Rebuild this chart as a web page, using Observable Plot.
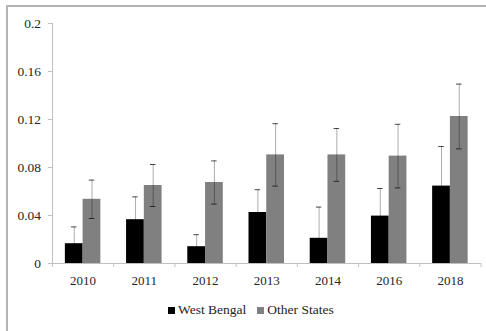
<!DOCTYPE html>
<html>
<head>
<meta charset="utf-8">
<script src="https://cdn.jsdelivr.net/npm/d3@7"></script>
<script src="https://cdn.jsdelivr.net/npm/@observablehq/plot@0.6"></script>
<style>
  body { margin: 0; background: #fff; }
  #frame {
    position: relative; width: 486px; height: 331px; overflow: hidden;
    font-family: "Liberation Serif", "Times New Roman", serif; color: #262626;
  }
  #frame::before {
    content: ""; position: absolute; left: 6px; top: 5px; right: 0; bottom: 0;
    border-left: 2px solid #b4b4b4; border-top: 2px solid #b4b4b4;
  }
  #chart { position: absolute; left: 0; top: 0; }
  #legend {
    position: absolute; top: 302px; left: 168px;
    display: flex; align-items: center; font-size: 13.5px; white-space: nowrap;
  }
  #legend .item { display: inline-flex; align-items: center; margin-right: 11px; }
  #legend .swatch { width: 7px; height: 7px; margin-right: 3px; }
</style>
</head>
<body>
<div id="frame">
  <div id="chart"></div>
  <div id="legend"></div>
</div>
<script>
// Survey years on the category axis
const years = ["2010", "2011", "2012", "2013", "2014", "2016", "2018"];

// Series names and fills
const seriesNames = ["West Bengal", "Other States"];
const seriesColors = ["#000000", "#808080"];

// Mean values per year
const westBengal = [0.0165, 0.0365, 0.014, 0.0425, 0.021, 0.0395, 0.0645];
const otherStates = [0.0535, 0.065, 0.0675, 0.0905, 0.0905, 0.0895, 0.1225];

// Error-bar half-widths per year
const westBengalErr = [0.014, 0.019, 0.010, 0.019, 0.026, 0.023, 0.033];
const otherStatesErr = [0.016, 0.0175, 0.018, 0.026, 0.022, 0.0265, 0.027];

// Value-axis tick labels
const yTickLabels = ["0", "0.04", "0.08", "0.12", "0.16", "0.2"];

// Each year occupies one unit on a linear x scale; the two bars sit side by side
const groupStart = 0.21;
const barWidth = 0.29;
const capHalf = 0.045;

const rows = years.flatMap((year, i) => [
  {year, i, series: seriesNames[0], k: 0, value: westBengal[i], err: westBengalErr[i]},
  {year, i, series: seriesNames[1], k: 1, value: otherStates[i], err: otherStatesErr[i]}
]).map(d => {
  const x1 = d.i + groupStart + d.k * barWidth;
  return {...d, x1, x2: x1 + barWidth, xc: x1 + barWidth / 2};
});

const yTicks = yTickLabels.map(Number);
const fmtY = v => yTickLabels[yTicks.indexOf(v)] ?? "";
const boundaries = d3.range(years.length + 1);
const centers = years.map((_, i) => i + 0.5);

const chart = Plot.plot({
  width: 486,
  height: 300,
  marginLeft: 52,
  marginRight: 5.5,
  marginTop: 23,
  marginBottom: 37,
  style: {fontFamily: "'Liberation Serif', 'Times New Roman', serif", background: "transparent"},
  x: {type: "linear", domain: [0, years.length], label: null},
  y: {domain: [0, 0.2], label: null},
  color: {domain: seriesNames, range: seriesColors},
  marks: [
    Plot.rect(rows, {x1: "x1", x2: "x2", y1: 0, y2: "value", fill: "series"}),
    // error bars
    Plot.ruleX(rows, {x: "xc", y1: d => d.value - d.err, y2: d => d.value + d.err,
      stroke: "#000", strokeOpacity: 0.33, strokeWidth: 1, clip: true}),
    Plot.ruleY(rows, {y: d => d.value + d.err, x1: d => d.xc - capHalf, x2: d => d.xc + capHalf,
      stroke: "#000", strokeOpacity: 0.7, strokeWidth: 1, clip: true}),
    Plot.ruleY(rows, {y: d => d.value - d.err, x1: d => d.xc - capHalf, x2: d => d.xc + capHalf,
      stroke: "#000", strokeOpacity: 0.7, strokeWidth: 1, clip: true}),
    // axis lines
    Plot.ruleX([0], {stroke: "#c0c0c0"}),
    Plot.ruleY([0], {stroke: "#c0c0c0"}),
    // value axis
    Plot.axisY({ticks: yTicks, tickFormat: fmtY, tickSize: 4, tickPadding: 7.5,
      stroke: "#c0c0c0", fill: "#262626", fontSize: 13.5, label: null}),
    // category boundary ticks
    Plot.axisX({ticks: boundaries, tickFormat: () => "", tickSize: 4,
      stroke: "#c0c0c0", label: null}),
    // category labels
    Plot.axisX({ticks: centers, tickFormat: v => years[Math.round(v - 0.5)], tickSize: 0,
      tickPadding: 12, fill: "#262626", fontSize: 13, label: null})
  ]
});
document.getElementById("chart").appendChild(chart);

// Legend below the plot
const legend = d3.select("#legend");
seriesNames.forEach((name, i) => {
  const item = legend.append("span").attr("class", "item");
  item.append("span").attr("class", "swatch").style("background", seriesColors[i]);
  item.append("span").text(name);
});
</script>
</body>
</html>
